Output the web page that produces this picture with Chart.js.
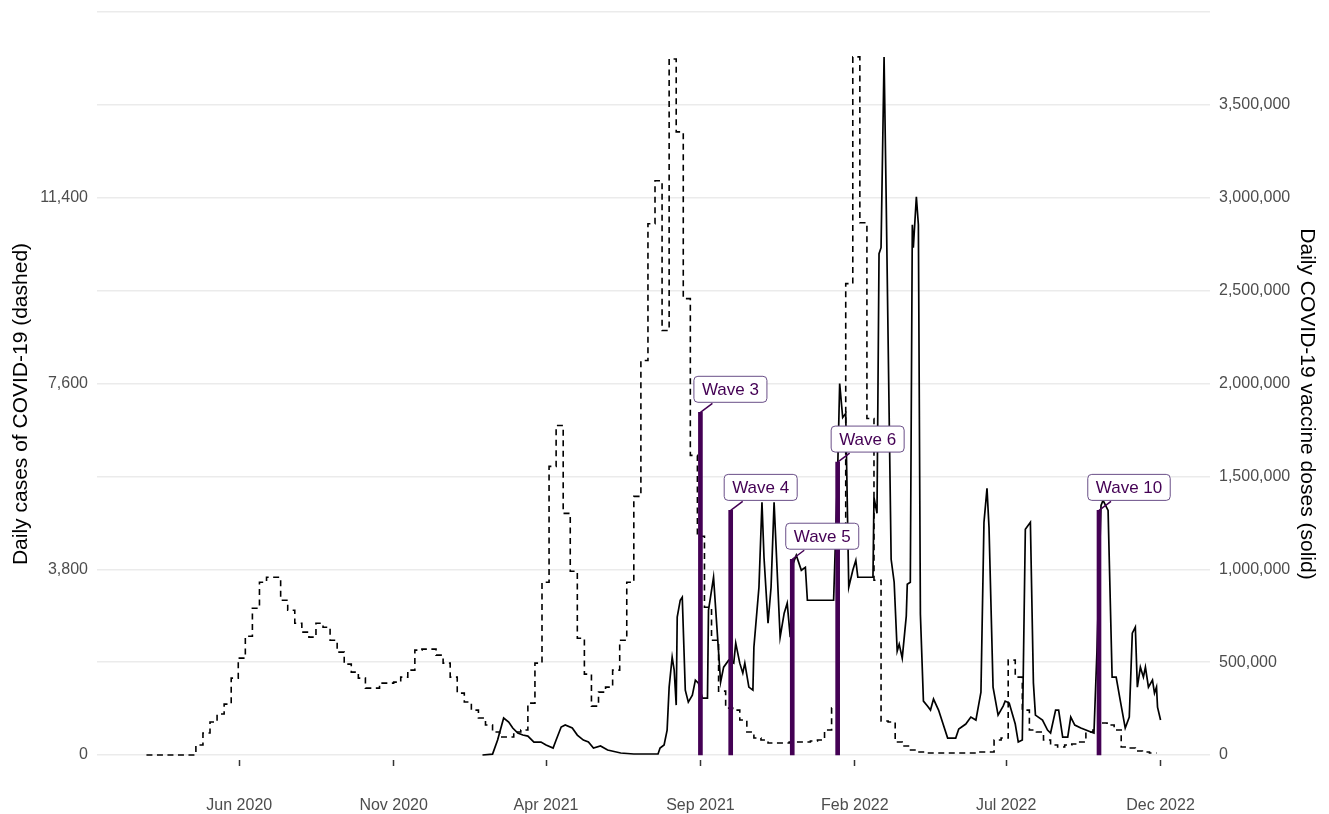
<!DOCTYPE html>
<html>
<head>
<meta charset="utf-8">
<title>COVID-19 cases and vaccine doses</title>
<script src="https://cdn.jsdelivr.net/npm/chart.js@4.4.1/dist/chart.umd.min.js"></script>
<style>
    html, body { margin: 0; padding: 0; background: #ffffff; }
    #wrap { width: 1329px; height: 814px; }
</style>
</head>
<body>
<div id="wrap"><canvas id="chart" width="1329" height="814"></canvas></div>
<script>
// Weekly cases (dashed), one value per week starting at caseStart
const caseStart = '2020-03-01';
const weeklyCases = [
    0, 0, 0, 0, 0, 0, 0,
    204, 449, 674, 838, 1042, 1573, 1982, 2431, 3003, 3534,
    3637, 3637, 3167, 2962, 2697, 2513, 2411, 2697, 2615, 2349,
    2104, 1859, 1696, 1573, 1369, 1369, 1471, 1471, 1491, 1594,
    1737, 2145, 2166, 2166, 2043, 1880, 1594, 1267, 1083, 919,
    756, 613, 470, 368, 368, 470, 511, 1062, 1880, 3534,
    5904, 6742, 4944, 3759, 2390, 1655, 1001, 1287, 1389, 1737,
    2349, 3534, 5291, 8070, 10869, 11747, 8683, 14240, 12748, 9337,
    6129, 4474, 3024, 2349, 1308, 960, 919, 715, 470, 347,
    306, 245, 245, 245, 266, 266, 266, 286, 306, 511,
    960, 4500, 9643, 14281, 10889, 6885, 3575, 695, 674, 266,
    184, 102, 61, 41, 41, 41, 41, 41, 41, 41,
    41, 61, 61, 306, 347, 1941, 1594, 919, 511, 470,
    306, 204, 163, 204, 225, 266, 470, 511, 654, 613,
    511, 163, 143, 82, 61, 41, 41
];

// Daily vaccine doses (solid)
const doseDates = [
    '2021-01-28', '2021-02-07', '2021-02-12', '2021-02-18', '2021-02-23', '2021-02-27',
    '2021-03-04', '2021-03-09', '2021-03-14', '2021-03-20', '2021-03-27', '2021-04-01',
    '2021-04-08', '2021-04-11', '2021-04-16', '2021-04-20', '2021-04-27', '2021-05-02',
    '2021-05-08', '2021-05-13', '2021-05-18', '2021-05-25', '2021-06-01', '2021-06-14',
    '2021-06-27', '2021-07-21', '2021-07-23', '2021-07-27', '2021-07-30', '2021-08-01',
    '2021-08-04', '2021-08-06', '2021-08-08', '2021-08-09', '2021-08-12', '2021-08-14',
    '2021-08-17', '2021-08-20', '2021-08-24', '2021-08-27', '2021-08-30', '2021-09-03',
    '2021-09-08', '2021-09-09', '2021-09-14', '2021-09-18', '2021-09-21', '2021-09-24',
    '2021-09-29', '2021-10-04', '2021-10-06', '2021-10-10', '2021-10-13', '2021-10-15',
    '2021-10-19', '2021-10-23', '2021-10-24', '2021-10-29', '2021-11-01', '2021-11-03',
    '2021-11-07', '2021-11-10', '2021-11-13', '2021-11-19', '2021-11-23', '2021-11-26',
    '2021-11-29', '2021-12-02', '2021-12-05', '2021-12-10', '2021-12-14', '2021-12-16',
    '2022-01-11', '2022-01-15', '2022-01-17', '2022-01-20', '2022-01-23', '2022-01-26',
    '2022-01-30', '2022-02-02', '2022-02-04', '2022-02-19', '2022-02-20', '2022-02-23',
    '2022-02-25', '2022-02-27', '2022-03-02', '2022-03-04', '2022-03-09', '2022-03-12',
    '2022-03-15', '2022-03-17', '2022-03-20', '2022-03-24', '2022-03-25', '2022-03-28',
    '2022-03-30', '2022-03-31', '2022-04-03', '2022-04-05', '2022-04-07', '2022-04-10',
    '2022-04-14', '2022-04-17', '2022-04-20', '2022-04-25', '2022-05-04', '2022-05-12',
    '2022-05-15', '2022-05-22', '2022-05-27', '2022-06-01', '2022-06-06', '2022-06-09',
    '2022-06-12', '2022-06-14', '2022-06-18', '2022-06-23', '2022-06-28', '2022-06-30',
    '2022-07-04', '2022-07-10', '2022-07-13', '2022-07-17', '2022-07-20', '2022-07-25',
    '2022-07-28', '2022-07-30', '2022-08-06', '2022-08-11', '2022-08-14', '2022-08-19',
    '2022-08-22', '2022-08-26', '2022-08-31', '2022-09-03', '2022-09-07', '2022-09-13',
    '2022-09-23', '2022-09-26', '2022-09-29', '2022-10-03', '2022-10-05', '2022-10-10',
    '2022-10-14', '2022-10-18', '2022-10-22', '2022-10-27', '2022-10-31', '2022-11-03',
    '2022-11-06', '2022-11-08', '2022-11-11', '2022-11-14', '2022-11-16', '2022-11-19',
    '2022-11-23', '2022-11-25', '2022-11-27', '2022-11-28', '2022-12-01'
];
const doseValues = [
    0, 5000, 80600, 198900, 177400, 145200,
    118300, 107500, 102100, 69900, 69900, 53800,
    37600, 80600, 150500, 161300, 145200, 107500,
    80600, 69900, 37600, 48400, 26900, 10800,
    5400, 5400, 37600, 53800, 134400, 365600,
    526800, 457000, 268800, 741900, 833300, 849400,
    349400, 284900, 322600, 403200, 387100, 306400,
    306400, 779500, 956900, 634400, 392400, 473100,
    510700, 494600, 602100, 494600, 440800, 494600,
    365600, 349400, 580600, 903200, 1360100, 1064400,
    709600, 903200, 1360100, 634400, 763400, 817200,
    634400, 1032200, 1075200, 994600, 1010700, 833300,
    833300, 1532200, 1999900, 1817100, 1838600, 903200,
    994600, 1048300, 956900, 956900, 1387000, 1301000,
    2698800, 2731000, 3757800, 3026700, 1053700, 930000,
    559100, 596700, 521500, 747300, 919300, 930000,
    2854700, 2731000, 3005200, 2854700, 758000, 290300,
    263400, 241900, 301100, 241900, 91400, 91400,
    139800, 166700, 204300, 188200, 338700, 1252600,
    1435400, 1225700, 365600, 215000, 263400, 290300,
    279600, 166700, 69900, 80600, 1215000, 1252600,
    387100, 215000, 188200, 134400, 118300, 241900,
    241900, 96800, 96800, 204300, 161300, 145200,
    123600, 118300, 564500, 1344000, 1370900, 1317100,
    419300, 419300, 295700, 145200, 204300, 655900,
    688100, 365600, 473100, 419300, 473100, 365600,
    403200, 333300, 365600, 258000, 188200
];

// Wave markers
const waveNames = ['Wave 3', 'Wave 4', 'Wave 5', 'Wave 6', 'Wave 10'];
const waveDates = ['2021-09-01', '2021-10-01', '2021-12-01', '2022-01-15', '2022-10-01'];
const waveDoses = [1845000, 1317000, 1054000, 1577000, 1317000];

// Axes
const xTickDates = ['2020-06-01', '2020-11-01', '2021-04-01', '2021-09-01', '2022-02-01', '2022-07-01', '2022-12-01'];
const xTickLabels = ['Jun 2020', 'Nov 2020', 'Apr 2021', 'Sep 2021', 'Feb 2022', 'Jul 2022', 'Dec 2022'];
const leftTickValues = [0, 3800, 7600, 11400];
const leftTickLabels = ['0', '3,800', '7,600', '11,400'];
const leftGridValues = [0, 1900, 3800, 5700, 7600, 9500, 11400, 13300, 15200];
const rightTickValues = [0, 500000, 1000000, 1500000, 2000000, 2500000, 3000000, 3500000];
const rightTickLabels = ['0', '500,000', '1,000,000', '1,500,000', '2,000,000', '2,500,000', '3,000,000', '3,500,000'];
const leftTitle = 'Daily cases of COVID-19 (dashed)';
const rightTitle = 'Daily COVID-19 vaccine doses (solid)';

const CASES_PER_DOSE = 3800 / 1000000;
const LEFT_MIN = -102;
const LEFT_MAX = 15200;
const X_FROM = '2020-01-12';
const X_TO = '2023-01-19';

const FONT = '"Liberation Sans", Arial, Helvetica, sans-serif';
const PURPLE = '#440154';

// Hjelpefunksjoner
function dayNum(s) {
    const [y, m, d] = s.split('-').map(Number);
    return (Date.UTC(y, m - 1, d) - Date.UTC(2020, 0, 1)) / 86400000;
}

const caseStartDay = dayNum(caseStart);
const casePoints = weeklyCases.map((v, i) => ({ x: caseStartDay + 7 * i, y: v }));
const dosePoints = doseDates.map((d, i) => ({ x: dayNum(d), y: doseValues[i] }));
const wavePoints = waveDates.map((d, i) => ({ x: dayNum(d), y: waveDoses[i] }));

// Labels for the wave bars
const waveLabelPlugin = {
    id: 'waveLabels',
    afterDatasetsDraw(chart) {
        const { ctx, scales } = chart;
        ctx.save();
        ctx.font = '17px ' + FONT;
        ctx.textAlign = 'center';
        ctx.textBaseline = 'middle';
        waveNames.forEach((name, i) => {
            const px = scales.x.getPixelForValue(wavePoints[i].x);
            const py = scales.yR.getPixelForValue(wavePoints[i].y);
            const w = ctx.measureText(name).width + 16;
            const h = 26;
            const cx = px + 30;
            const bottom = py - 10;

            ctx.strokeStyle = PURPLE;
            ctx.lineWidth = 1.5;
            ctx.beginPath();
            ctx.moveTo(px, py);
            ctx.lineTo(px + 12, bottom + 1);
            ctx.stroke();

            ctx.beginPath();
            ctx.roundRect(cx - w / 2, bottom - h, w, h, 4);
            ctx.fillStyle = '#ffffff';
            ctx.fill();
            ctx.strokeStyle = '#6a4f88';
            ctx.lineWidth = 1;
            ctx.stroke();

            ctx.fillStyle = PURPLE;
            ctx.fillText(name, cx, bottom - h / 2 + 1);
        });
        ctx.restore();
    }
};

// Axis titles, a little below the middle of the plot like the original
const axisTitlePlugin = {
    id: 'axisTitles',
    afterDraw(chart) {
        const { ctx, chartArea, width } = chart;
        const cy = (chartArea.top + chartArea.bottom) / 2 + 18;
        ctx.save();
        ctx.font = '21px ' + FONT;
        ctx.fillStyle = '#000000';
        ctx.textAlign = 'center';
        ctx.textBaseline = 'middle';

        ctx.save();
        ctx.translate(21, cy);
        ctx.rotate(-Math.PI / 2);
        ctx.fillText(leftTitle, 0, 0);
        ctx.restore();

        ctx.save();
        ctx.translate(width - 22, cy);
        ctx.rotate(Math.PI / 2);
        ctx.fillText(rightTitle, 0, 0);
        ctx.restore();

        ctx.restore();
    }
};

const tickFont = { family: FONT, size: 16 };

function fixY(width) {
    return (scale) => {
        scale.width = width;
        scale.paddingTop = 0;
        scale.paddingBottom = 0;
    };
}

new Chart(document.getElementById('chart').getContext('2d'), {
    type: 'line',
    data: {
        datasets: [
            {
                type: 'bar',
                label: 'Waves',
                data: wavePoints,
                yAxisID: 'yR',
                backgroundColor: PURPLE,
                borderWidth: 0,
                barThickness: 4,
                order: 0
            },
            {
                label: 'Daily COVID-19 vaccine doses',
                data: dosePoints,
                yAxisID: 'yR',
                borderColor: '#000000',
                borderWidth: 1.7,
                pointRadius: 0,
                tension: 0,
                fill: false,
                order: 1
            },
            {
                label: 'Daily cases of COVID-19',
                data: casePoints,
                yAxisID: 'yL',
                borderColor: '#000000',
                borderWidth: 1.6,
                borderDash: [6, 4.5],
                stepped: true,
                pointRadius: 0,
                fill: false,
                order: 2
            }
        ]
    },
    options: {
        responsive: false,
        animation: false,
        events: [],
        layout: { padding: { top: 12, left: 0, right: 0, bottom: 0 } },
        plugins: {
            legend: { display: false },
            tooltip: { enabled: false }
        },
        scales: {
            x: {
                type: 'linear',
                min: dayNum(X_FROM),
                max: dayNum(X_TO),
                offset: false,
                border: { display: false },
                grid: { offset: false, drawOnChartArea: false, drawTicks: true, tickLength: 6, tickColor: '#333333', tickWidth: 1.5 },
                ticks: {
                    padding: 30,
                    color: '#4d4d4d',
                    font: tickFont,
                    maxRotation: 0,
                    autoSkip: false,
                    callback: (value, index) => xTickLabels[index]
                },
                afterBuildTicks: (scale) => { scale.ticks = xTickDates.map(d => ({ value: dayNum(d) })); },
                afterFit: (scale) => { scale.height = 54; }
            },
            yL: {
                type: 'linear',
                position: 'left',
                min: LEFT_MIN,
                max: LEFT_MAX,
                border: { display: false },
                grid: { color: '#ebebeb', lineWidth: 1.5, drawTicks: false },
                ticks: {
                    padding: 9,
                    color: '#4d4d4d',
                    font: tickFont,
                    callback: (value) => {
                        const i = leftTickValues.indexOf(value);
                        return i >= 0 ? leftTickLabels[i] : '';
                    }
                },
                afterBuildTicks: (scale) => { scale.ticks = leftGridValues.map(v => ({ value: v })); },
                afterFit: fixY(97)
            },
            yR: {
                type: 'linear',
                position: 'right',
                min: LEFT_MIN / CASES_PER_DOSE,
                max: LEFT_MAX / CASES_PER_DOSE,
                border: { display: false },
                grid: { display: false, drawTicks: false },
                ticks: {
                    padding: 9,
                    color: '#4d4d4d',
                    font: tickFont,
                    callback: (value) => {
                        const i = rightTickValues.indexOf(value);
                        return i >= 0 ? rightTickLabels[i] : '';
                    }
                },
                afterBuildTicks: (scale) => { scale.ticks = rightTickValues.map(v => ({ value: v })); },
                afterFit: fixY(119)
            }
        }
    },
    plugins: [waveLabelPlugin, axisTitlePlugin]
});
</script>
</body>
</html>
